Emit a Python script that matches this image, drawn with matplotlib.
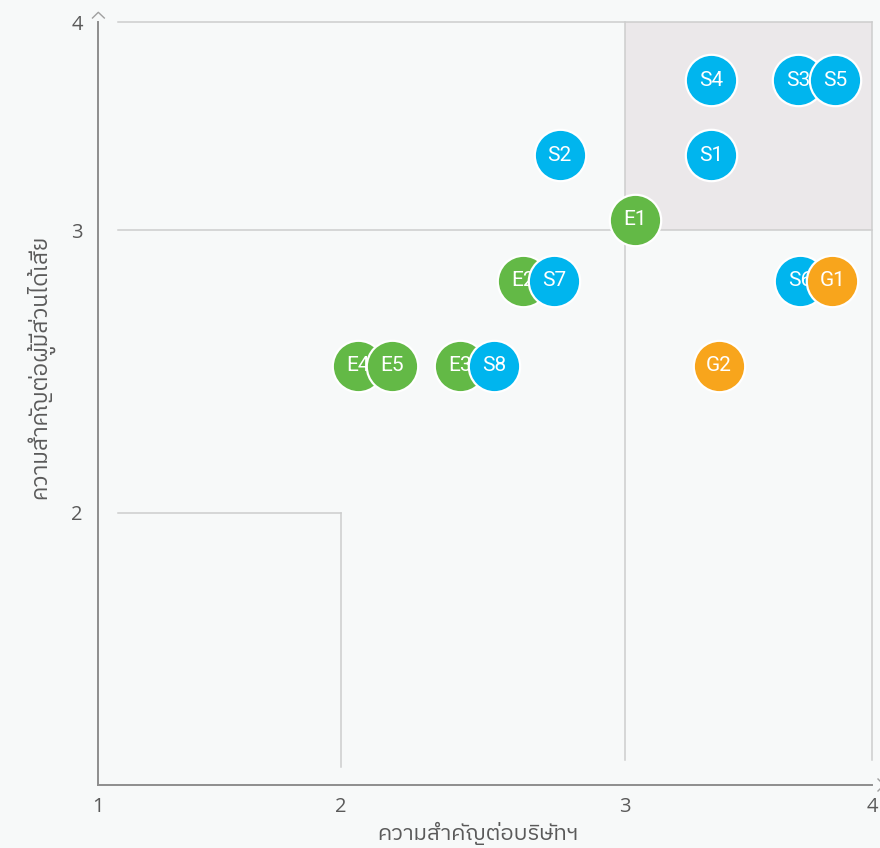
import numpy as np
import matplotlib
matplotlib.use("Agg")
import matplotlib.pyplot as plt
from matplotlib import font_manager
from matplotlib.ft2font import FT2Font
from matplotlib.scale import FuncScale

# ---------------- data ----------------
labels = ["S4", "S1", "S2", "S3", "S5", "E1", "E2", "S7", "S6", "G1",
          "E4", "E5", "E3", "S8", "G2"]
groups = ["S", "S", "S", "S", "S", "E", "E", "S", "S", "G",
          "E", "E", "E", "S", "G"]
company = [3.35, 3.35, 2.77, 3.70, 3.85, 3.04, 2.64, 2.75, 3.71, 3.84,
           2.06, 2.18, 2.42, 2.54, 3.38]
stakeholder = [3.72, 3.36, 3.36, 3.72, 3.72, 3.05, 2.82, 2.82, 2.82, 2.82,
               2.52, 2.52, 2.52, 2.52, 2.52]
tick_values = [1, 2, 3, 4]
x_label = "ความสำคัญต่อบริษัทฯ"
y_label = "ความสำคัญต่อผู้มีส่วนได้เสีย"

group_colors = {"S": "#00b5ee", "E": "#63b946", "G": "#f8a51c"}

# ---------------- fonts ----------------
def find_thai_family():
    prefer = []
    others = []
    for f in font_manager.fontManager.ttflist:
        try:
            cmap = FT2Font(f.fname).get_charmap()
        except Exception:
            continue
        if 0x0E04 in cmap and 0x0E33 in cmap:
            if "sans" in f.name.lower():
                prefer.append(f.name)
            else:
                others.append(f.name)
    cands = prefer + others
    return cands[0] if cands else None

thai = find_thai_family()
fam = ["Open Sans"] + ([thai] if thai else []) + ["DejaVu Sans"]
plt.rcParams["font.family"] = fam

# ---------------- non-uniform scales ----------------
x_pos = [0, 243, 527, 774]     # relative positions of 1,2,3,4 on x
y_pos = [0, 272, 555, 763]     # relative positions of 1,2,3,4 on y

def make_scale(vals, pos):
    vals = np.asarray(vals, float)
    pos = np.asarray(pos, float)
    s_lo = (pos[1] - pos[0]) / (vals[1] - vals[0])
    s_hi = (pos[-1] - pos[-2]) / (vals[-1] - vals[-2])

    def fwd(v):
        v = np.asarray(v, float)
        out = np.interp(v, vals, pos)
        out = np.where(v < vals[0], pos[0] + (v - vals[0]) * s_lo, out)
        out = np.where(v > vals[-1], pos[-1] + (v - vals[-1]) * s_hi, out)
        return out

    def inv(p):
        p = np.asarray(p, float)
        out = np.interp(p, pos, vals)
        out = np.where(p < pos[0], vals[0] + (p - pos[0]) / s_lo, out)
        out = np.where(p > pos[-1], vals[-1] + (p - pos[-1]) / s_hi, out)
        return out
    return fwd, inv

fx, ix = make_scale(tick_values, x_pos)
fy, iy = make_scale(tick_values, y_pos)

W, H = 880, 848
fig = plt.figure(figsize=(W / 100, H / 100), dpi=100)
bg = "#f7f9f9"
fig.patch.set_facecolor(bg)

ax_l, ax_b, ax_w, ax_h = 98, 63, 782, 775
ax = fig.add_axes([ax_l / W, ax_b / H, ax_w / W, ax_h / H])
ax.set_facecolor(bg)
ax.set_xscale(FuncScale(ax, (fx, ix)))
ax.set_yscale(FuncScale(ax, (fy, iy)))
ax.set_xlim(1, float(ix(ax_w)))
ax.set_ylim(1, float(iy(ax_h)))

# shaded top-right quadrant
ax.fill_between([3, 4], 3, 4, color="#ebe8ea", zorder=0, linewidth=0)
grid_c = "#cdcdcd"
gx0 = float(ix(20))
gy0a = float(iy(25))
gy0b = float(iy(18))
ax.plot([gx0, 4], [4, 4], color=grid_c, lw=1.1, zorder=1)
ax.plot([gx0, 4], [3, 3], color=grid_c, lw=1.1, zorder=1)
ax.plot([gx0, 2], [2, 2], color=grid_c, lw=1.1, zorder=1)
ax.plot([3, 3], [gy0a, 4], color=grid_c, lw=1.1, zorder=1)
ax.plot([4, 4], [gy0a, 4], color=grid_c, lw=1.1, zorder=1)
ax.plot([2, 2], [gy0b, 2], color=grid_c, lw=1.1, zorder=1)

# spines
for s in ["top", "right"]:
    ax.spines[s].set_visible(False)
spine_c = "#8e8e8e"
ax.spines["left"].set_bounds(1, 4)
ax.spines["bottom"].set_bounds(1, 4)
for s in ["left", "bottom"]:
    ax.spines[s].set_color(spine_c)
    ax.spines[s].set_linewidth(1.4)

# chevrons (axis arrows) in axes-fraction via pixel offsets
def pxa(px, py_top):
    return ((px - ax_l) / ax_w, (H - py_top - ax_b) / ax_h)

chev_c = "#a0a0a0"
p1, p2, p3 = pxa(92.5, 18), pxa(98.3, 12.3), pxa(104.3, 18)
ax.plot([p1[0], p2[0], p3[0]], [p1[1], p2[1], p3[1]], color=chev_c, lw=1.0,
        transform=ax.transAxes, clip_on=False)
p1, p2, p3 = pxa(878, 779), pxa(884, 785), pxa(878, 791)
ax.plot([p1[0], p2[0], p3[0]], [p1[1], p2[1], p3[1]], color=chev_c, lw=1.0,
        transform=ax.transAxes, clip_on=False)

# ticks
ax.set_xticks(tick_values)
ax.set_xticklabels([str(v) for v in tick_values])
ax.set_yticks(tick_values[1:])
ax.set_yticklabels([str(v) for v in tick_values[1:]])
ax.tick_params(axis="both", length=0, labelsize=14.5, colors="#5a5a5a")
ax.tick_params(axis="x", pad=9)
ax.tick_params(axis="y", pad=11)

# bubbles
for i, (lab, g, xv, yv) in enumerate(zip(labels, groups, company, stakeholder)):
    ax.scatter([xv], [yv], s=1370, color=group_colors[g], edgecolors="white",
               linewidths=1.6, zorder=3 + 2 * i, clip_on=False)
    ax.text(xv, yv, lab, color="white", fontsize=15, ha="center",
            va="center", zorder=4 + 2 * i, family=["Roboto", "DejaVu Sans"])

# axis labels
fig.text(478 / W, 1 - 833 / H, x_label, ha="center", va="center",
         fontsize=16, color="#5a5a5a")
fig.text(40 / W, 1 - 367 / H, y_label, ha="center", va="center",
         rotation=90, fontsize=16.3, color="#5a5a5a")

fig.savefig("out.png", dpi=100, facecolor=bg)
